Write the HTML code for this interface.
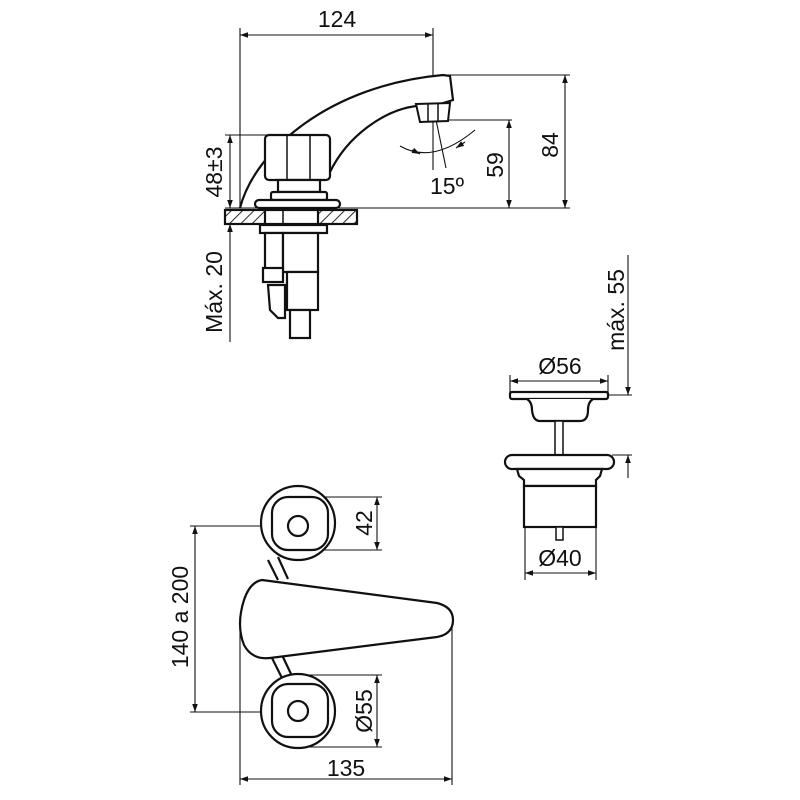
<!DOCTYPE html>
<html><head><style>html,body{margin:0;padding:0;background:#fff}svg{display:block}</style></head>
<body>
<svg width="800" height="800" viewBox="0 0 800 800" xmlns="http://www.w3.org/2000/svg" font-family="Liberation Sans, sans-serif">
<defs>
<marker id="a" viewBox="0 0 10 10" refX="10" refY="5" markerWidth="11" markerHeight="8" orient="auto-start-reverse" markerUnits="userSpaceOnUse"><path d="M0,1.5 L10,5 L0,8.5z" fill="#111"/></marker>
<pattern id="h" width="8" height="8" patternUnits="userSpaceOnUse" patternTransform="rotate(45)"><line x1="0" y1="0" x2="0" y2="8" stroke="#111" stroke-width="1.8"/></pattern>
</defs>
<g stroke="#111" fill="none" stroke-width="1.1">
<line x1="240" y1="28" x2="240" y2="208"/>
<line x1="433" y1="28" x2="433" y2="170"/>
<line x1="240" y1="35" x2="433" y2="35" marker-start="url(#a)" marker-end="url(#a)"/>
<line x1="443" y1="75" x2="570" y2="75"/>
<line x1="440" y1="120" x2="512" y2="120"/>
<line x1="225" y1="208" x2="570" y2="208"/>
<line x1="509" y1="120" x2="509" y2="208" marker-start="url(#a)" marker-end="url(#a)"/>
<line x1="565" y1="75" x2="565" y2="208" marker-start="url(#a)" marker-end="url(#a)"/>
<line x1="225" y1="135" x2="295" y2="135"/>
<line x1="230" y1="135" x2="230" y2="208" marker-start="url(#a)" marker-end="url(#a)"/>
<line x1="230" y1="342" x2="230" y2="224" marker-end="url(#a)"/>
<path d="M400,146 Q433,165 475,130"/>
<line x1="435" y1="115" x2="446" y2="168"/>
<path d="M412,150 L420,154" marker-end="url(#a)"/>
<path d="M465,142 L456,148" marker-end="url(#a)"/>
</g>
<g stroke="#111" fill="#fff" stroke-width="2.2">
<path d="M240,208 C255,150 330,85 443,75 L450,76 L453,100 L440,104 L416,106 C385,110 348,135 330,172"/>
<path d="M416,104 L450,103 L448,121 L420,122 Z" stroke-width="2"/>
<line x1="428" y1="104" x2="428" y2="122" stroke-width="1.5"/>
<line x1="438" y1="104" x2="438" y2="122" stroke-width="1.5"/>
<rect x="265" y="135" width="65" height="45" rx="4"/>
<line x1="287" y1="135" x2="287" y2="180" stroke-width="1.5"/>
<line x1="310" y1="135" x2="310" y2="180" stroke-width="1.5"/>
<rect x="278" y="180" width="42" height="12"/>
<rect x="271" y="192" width="56" height="8" rx="2"/>
<rect x="255" y="200" width="85" height="8" rx="4"/>
<rect x="225" y="210" width="132" height="14" fill="url(#h)"/>
<rect x="265" y="210" width="53" height="14" fill="#fff"/>
<line x1="283" y1="210" x2="283" y2="224" stroke-width="1.5"/>
<rect x="260" y="225" width="67" height="8"/>
<rect x="265" y="233" width="18" height="38"/>
<rect x="283" y="233" width="35" height="39"/>
<rect x="287" y="272" width="31" height="38"/>
<rect x="290" y="310" width="20" height="28"/>
<rect x="263" y="268" width="20" height="14"/>
<path d="M268,285 L285,285 L285,318 L278,318 L270,310 Z"/>
</g>
<g fill="#111" font-size="23">
<text x="337" y="27" text-anchor="middle">124</text>
<text x="447" y="194" text-anchor="middle">15º</text>
<text transform="translate(503,165) rotate(-90)" text-anchor="middle">59</text>
<text transform="translate(558,145) rotate(-90)" text-anchor="middle">84</text>
<text transform="translate(222,172) rotate(-90)" text-anchor="middle">48±3</text>
<text transform="translate(222,292) rotate(-90)" text-anchor="middle">Máx. 20</text>
<text transform="translate(624,310) rotate(-90)" text-anchor="middle">máx. 55</text>
<text x="560" y="374" text-anchor="middle">Ø56</text>
<text x="560" y="566" text-anchor="middle">Ø40</text>
<text transform="translate(372,523) rotate(-90)" text-anchor="middle">42</text>
<text transform="translate(372,711) rotate(-90)" text-anchor="middle">Ø55</text>
<text transform="translate(188,617) rotate(-90)" text-anchor="middle">140 a 200</text>
<text x="346" y="776" text-anchor="middle">135</text>
</g>
<g stroke="#111" fill="none" stroke-width="1.1">
<line x1="628" y1="255" x2="628" y2="395" marker-end="url(#a)"/>
<line x1="628" y1="478" x2="628" y2="455" marker-end="url(#a)"/>
<line x1="608" y1="395" x2="632" y2="395"/>
<line x1="612" y1="455" x2="632" y2="455"/>
<line x1="510" y1="375" x2="510" y2="398"/>
<line x1="608" y1="375" x2="608" y2="398"/>
<line x1="510" y1="381" x2="608" y2="381" marker-start="url(#a)" marker-end="url(#a)"/>
<line x1="525" y1="527" x2="525" y2="580"/>
<line x1="596" y1="527" x2="596" y2="580"/>
<line x1="525" y1="573" x2="596" y2="573" marker-start="url(#a)" marker-end="url(#a)"/>
</g>
<g stroke="#111" fill="#fff" stroke-width="2.2">
<rect x="510" y="392" width="98" height="7" rx="2"/>
<path d="M527,399 Q532,402 532,410 Q533,421 540,421 L580,421 Q588,421 588,410 Q588,402 593,399"/>
<rect x="555" y="421" width="8" height="34" stroke-width="1.5"/>
<rect x="505" y="455" width="109" height="14" rx="7"/>
<path d="M517,469 L602,469 L600,476 L596,480 L596,486 L524,486 L524,480 L519,476 Z"/>
<rect x="524" y="486" width="72" height="41"/>
<rect x="556" y="527" width="7" height="13" stroke-width="1.5"/>
</g>
<g stroke="#111" fill="none" stroke-width="1.1">
<line x1="298" y1="497" x2="382" y2="497"/>
<line x1="298" y1="550" x2="382" y2="550"/>
<line x1="377" y1="497" x2="377" y2="550" marker-start="url(#a)" marker-end="url(#a)"/>
<line x1="298" y1="675" x2="382" y2="675"/>
<line x1="298" y1="747" x2="382" y2="747"/>
<line x1="377" y1="675" x2="377" y2="747" marker-start="url(#a)" marker-end="url(#a)"/>
<line x1="190" y1="526" x2="298" y2="526"/>
<line x1="190" y1="712" x2="298" y2="712"/>
<line x1="195" y1="526" x2="195" y2="712" marker-start="url(#a)" marker-end="url(#a)"/>
<line x1="240" y1="620" x2="240" y2="785"/>
<line x1="452" y1="620" x2="452" y2="785"/>
<line x1="240" y1="779" x2="452" y2="779" marker-start="url(#a)" marker-end="url(#a)"/>
</g>
<g stroke="#111" fill="#fff" stroke-width="2.2">
<path d="M268,560 L278,580 M278,557 L288,579"/>
<path d="M272,658 L282,678 M282,655 L292,676"/>
<circle cx="298" cy="523" r="37"/>
<rect x="272" y="497" width="56" height="53" rx="16"/>
<circle cx="298" cy="526" r="10"/>
<circle cx="298" cy="711" r="37"/>
<rect x="272" y="684" width="56" height="53" rx="16"/>
<circle cx="298" cy="711" r="10"/>
<path d="M262,580 L437,603 Q453,607 453,620 Q453,634 437,637 L270,658 Q252,660 244,645 Q236,625 244,600 Q250,582 262,580 Z"/>
</g>
</svg>
</body></html>
